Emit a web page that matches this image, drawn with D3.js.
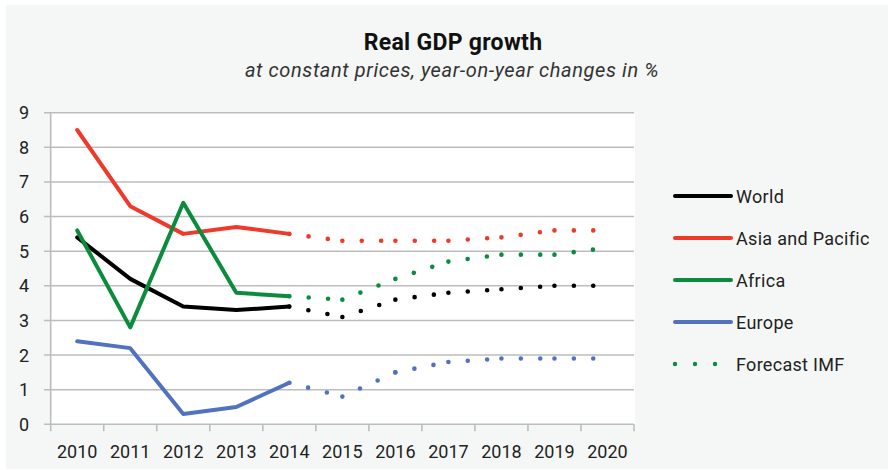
<!DOCTYPE html>
<html lang="en">
<head>
<meta charset="UTF-8">
<title>Real GDP growth</title>
<script src="https://d3js.org/d3.v7.min.js"></script>
<style>
  body { margin: 0; background: #fff; }
  svg { display: block; font-family: Roboto, "Noto Sans", sans-serif; }
  .grid line { stroke: #bdbdbd; stroke-width: 1.6px; }
  .tick-label { font-size: 18px; fill: #222; }
  .legend-label { font-size: 18px; fill: #222; letter-spacing: 0.3px; }
</style>
</head>
<body>
<div id="chart"></div>
<script>
// actual values 2010-2014
const years = [2010, 2011, 2012, 2013, 2014, 2015, 2016, 2017, 2018, 2019, 2020];
const actualYears = [2010, 2011, 2012, 2013, 2014];
const forecastYears = [2014, 2015, 2016, 2017, 2018, 2019, 2020];

const world = [5.4, 4.2, 3.4, 3.3, 3.4];
const asiaPacific = [8.5, 6.3, 5.5, 5.7, 5.5];
const africa = [5.6, 2.8, 6.4, 3.8, 3.7];
const europe = [2.4, 2.2, 0.3, 0.5, 1.2];

// IMF forecast, starting from last actual value
const worldForecast = [3.4, 3.1, 3.6, 3.8, 3.9, 4.0, 4.0];
const asiaPacificForecast = [5.5, 5.3, 5.3, 5.3, 5.4, 5.6, 5.6];
const africaForecast = [3.7, 3.6, 4.2, 4.7, 4.9, 4.9, 5.1];
const europeForecast = [1.2, 0.8, 1.5, 1.8, 1.9, 1.9, 1.9];

const yTicks = [0, 1, 2, 3, 4, 5, 6, 7, 8, 9];

const series = [
  { name: "World", color: "#000000", actual: world, forecast: worldForecast },
  { name: "Asia and Pacific", color: "#ee3a2b", actual: asiaPacific, forecast: asiaPacificForecast },
  { name: "Africa", color: "#0b8c3d", actual: africa, forecast: africaForecast },
  { name: "Europe", color: "#5072c0", actual: europe, forecast: europeForecast }
];

const W = 888, H = 470;
const svg = d3.select("#chart").append("svg")
  .attr("width", W).attr("height", H);

// panel background
svg.append("rect").attr("x", 6).attr("y", 5).attr("width", W - 6).attr("height", H - 6)
  .attr("fill", "#f5f7f6");

const x = d3.scaleBand().domain(years).range([50.7, 634]).padding(0);
const y = d3.scaleLinear().domain([0, 9]).range([424.3, 112.7]);
const cx = d => x(d) + x.bandwidth() / 2;

// white plot area
svg.append("rect")
  .attr("x", 50).attr("y", y(9))
  .attr("width", 635 - 50).attr("height", y(0) - y(9))
  .attr("fill", "#fff");

// title
svg.append("text").attr("x", 453).attr("y", 50).attr("text-anchor", "middle")
  .attr("font-size", 23).attr("font-weight", "bold").attr("fill", "#111")
  .attr("letter-spacing", 0.3)
  .text("Real GDP growth");
svg.append("text").attr("x", 452).attr("y", 77).attr("text-anchor", "middle")
  .attr("font-size", 20).attr("font-style", "italic").attr("fill", "#333")
  .attr("letter-spacing", 0.6)
  .text("at constant prices, year-on-year changes in %");

// horizontal gridlines + y axis
const grid = svg.append("g").attr("class", "grid");
grid.selectAll("line.h").data(yTicks).enter().append("line")
  .attr("x1", 44).attr("x2", 634)
  .attr("y1", d => y(d)).attr("y2", d => y(d));
grid.append("line")
  .attr("x1", 50.7).attr("x2", 50.7).attr("y1", y(9)).attr("y2", y(0));

svg.append("g").selectAll("text").data(yTicks).enter().append("text")
  .attr("class", "tick-label")
  .attr("x", 29).attr("y", d => y(d) + 6.5)
  .attr("text-anchor", "end")
  .text(d => d);

// x axis ticks at band edges
const edges = years.map(d => x(d)).concat([x(2020) + x.bandwidth()]);
grid.selectAll("line.v").data(edges).enter().append("line")
  .attr("x1", d => d).attr("x2", d => d)
  .attr("y1", y(0)).attr("y2", y(0) + 7);

svg.append("g").selectAll("text").data(years).enter().append("text")
  .attr("class", "tick-label")
  .attr("x", d => cx(d)).attr("y", 458)
  .attr("text-anchor", "middle")
  .text(d => d);

const line = d3.line().x(d => cx(d[0])).y(d => y(d[1]));

// forecast: dotted segments, dot pattern restarting each year
const fg = svg.append("g");
series.forEach(s => {
  const pts = forecastYears.map((yr, i) => [yr, s.forecast[i]]);
  for (let i = 0; i < pts.length - 1; i++) {
    fg.append("path")
      .attr("d", line([pts[i], pts[i + 1]]))
      .attr("fill", "none")
      .attr("stroke", s.color)
      .attr("stroke-width", 4.6)
      .attr("stroke-linecap", "round")
      .attr("stroke-dasharray", "0 19.4");
  }
});

// actual values
const ag = svg.append("g");
series.forEach(s => {
  ag.append("path")
    .attr("d", line(actualYears.map((yr, i) => [yr, s.actual[i]])))
    .attr("fill", "none")
    .attr("stroke", s.color)
    .attr("stroke-width", 4)
    .attr("stroke-linecap", "round")
    .attr("stroke-linejoin", "round");
});

// legend
const legend = svg.append("g");
const legendItems = series.map(s => ({ name: s.name, color: s.color, dotted: false }))
  .concat([{ name: "Forecast IMF", color: "#0b8c3d", dotted: true }]);
legendItems.forEach((d, i) => {
  const ly = 196 + i * 42;
  if (d.dotted) {
    legend.append("line")
      .attr("x1", 675).attr("x2", 716).attr("y1", ly).attr("y2", ly)
      .attr("stroke", d.color).attr("stroke-width", 4.4)
      .attr("stroke-linecap", "round").attr("stroke-dasharray", "0 20");
  } else {
    legend.append("line")
      .attr("x1", 675).attr("x2", 731).attr("y1", ly).attr("y2", ly)
      .attr("stroke", d.color).attr("stroke-width", 4)
      .attr("stroke-linecap", "round");
  }
  legend.append("text").attr("class", "legend-label")
    .attr("x", 736).attr("y", ly + 6.5)
    .text(d.name);
});
</script>
</body>
</html>
